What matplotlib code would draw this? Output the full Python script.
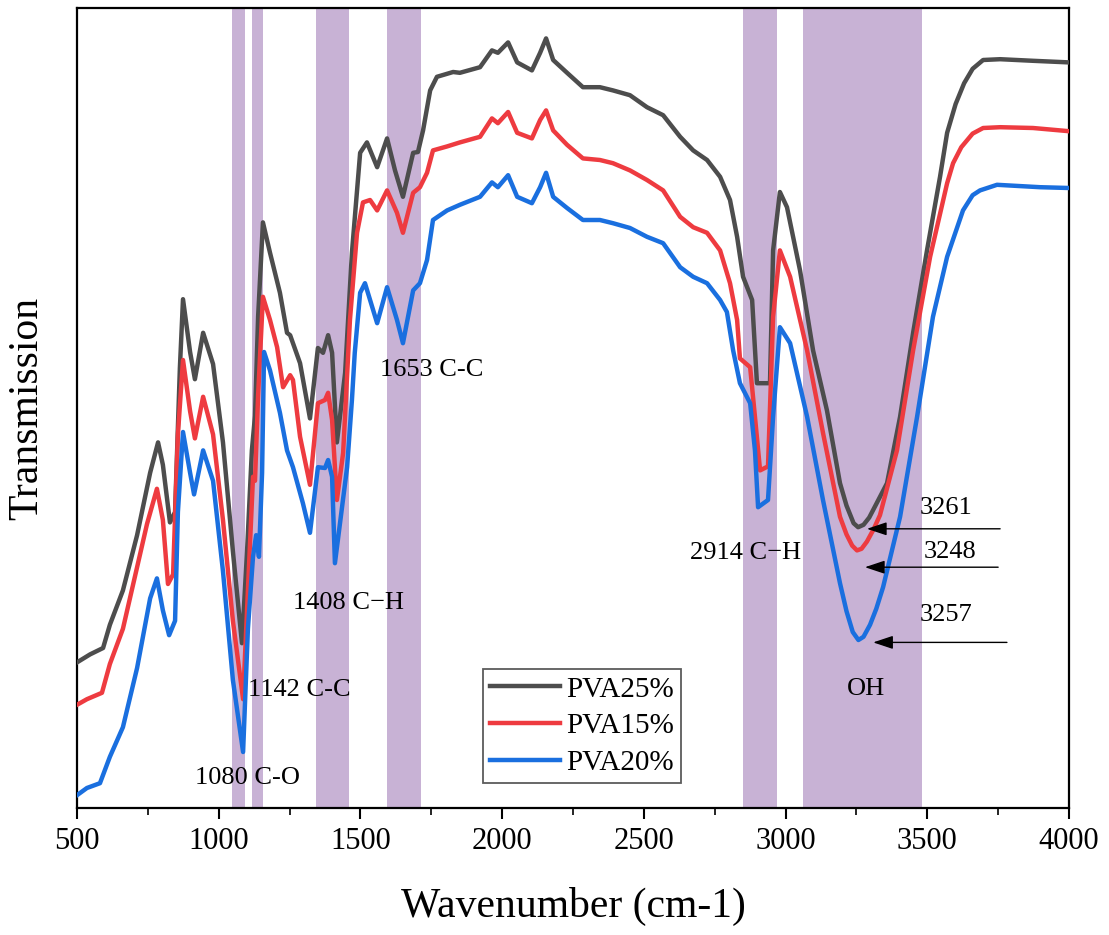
import matplotlib
matplotlib.use("Agg")
import matplotlib.pyplot as plt
from matplotlib.ticker import MultipleLocator

plt.rcParams['font.family'] = ['Liberation Serif', 'DejaVu Serif']

# wavenumber (cm-1) and transmission (a.u.)
wn_25 = [500, 546, 592, 616, 662, 712, 758, 786, 803, 828, 846, 863, 874, 899, 916, 945,
         980, 1015, 1050, 1082, 1100, 1117, 1128, 1139, 1156, 1181, 1216, 1241, 1252, 1287,
         1322, 1350, 1368, 1386, 1400, 1417, 1446, 1470, 1499, 1523, 1559, 1594, 1622, 1650,
         1686, 1703, 1721, 1746, 1770, 1827, 1851, 1922, 1964, 1985, 2021, 2053, 2105, 2134,
         2155, 2180, 2229, 2285, 2345, 2391, 2451, 2511, 2568, 2628, 2674, 2723, 2769, 2804,
         2829, 2850, 2882, 2899, 2921, 2945, 2956, 2980, 3005, 3051, 3097, 3146, 3192, 3215,
         3240, 3256, 3275, 3295, 3320, 3358, 3404, 3450, 3499, 3545, 3570, 3600, 3630, 3660,
         3697, 3757, 3873, 4000]
t_25 = [18.2, 19.2, 20.0, 22.9, 27.2, 34.1, 41.9, 45.7, 42.9, 35.7, 37.0, 55.0, 63.6, 57.0, 53.6, 59.4,
        55.5, 45.7, 32.1, 20.6, 32.1, 44.7, 49.0, 61.4, 73.2, 69.4, 64.4, 59.4, 59.1, 55.6,
        48.7, 57.5, 56.9, 59.1, 56.9, 45.7, 54.4, 69.4, 81.9, 83.2, 80.1, 83.7, 79.7, 76.4,
        81.9, 82.0, 84.7, 89.7, 91.4, 92.0, 91.9, 92.6, 94.7, 94.4, 95.7, 93.2, 92.2, 94.4,
        96.2, 93.5, 91.9, 90.1, 90.1, 89.7, 89.1, 87.6, 86.6, 83.9, 82.2, 81.0, 78.9, 76.0,
        71.4, 66.4, 63.5, 53.1, 53.1, 53.1, 69.7, 77.0, 75.1, 67.2, 57.2, 49.7, 40.6, 37.8,
        35.6, 35.1, 35.4, 36.3, 38.0, 40.6, 48.9, 59.4, 69.7, 78.9, 84.4, 88.0, 90.6, 92.4,
        93.5, 93.6, 93.4, 93.2]

wn_15 = [500, 535, 588, 616, 662, 712, 747, 782, 803, 821, 839, 856, 874, 899, 916, 945,
         980, 1015, 1050, 1086, 1103, 1121, 1128, 1139, 1156, 1181, 1206, 1227, 1252, 1262,
         1287, 1322, 1350, 1375, 1386, 1400, 1417, 1439, 1463, 1488, 1509, 1534, 1559, 1594,
         1629, 1650, 1686, 1710, 1735, 1756, 1806, 1851, 1922, 1964, 1985, 2021, 2053, 2105,
         2134, 2155, 2180, 2229, 2285, 2345, 2391, 2451, 2511, 2568, 2628, 2674, 2723, 2769,
         2804, 2829, 2839, 2875, 2892, 2910, 2938, 2956, 2980, 3016, 3076, 3132, 3192, 3215,
         3235, 3252, 3268, 3287, 3310, 3333, 3393, 3450, 3510, 3570, 3591, 3620, 3660, 3697,
         3757, 3873, 4000]
t_15 = [12.9, 13.6, 14.4, 18.0, 22.4, 30.1, 35.5, 39.9, 36.0, 28.0, 29.2, 46.7, 56.0, 49.6, 46.2, 51.4,
        46.7, 36.0, 23.4, 13.6, 27.2, 41.4, 40.9, 51.6, 63.9, 61.0, 57.6, 52.6, 54.1, 53.5,
        46.4, 40.4, 50.6, 51.0, 51.9, 48.5, 38.5, 44.4, 61.0, 71.9, 75.7, 76.0, 74.7, 77.2,
        74.4, 71.9, 76.9, 77.6, 79.4, 82.2, 82.7, 83.2, 83.9, 86.2, 85.6, 87.0, 84.4, 83.7,
        86.0, 87.2, 84.7, 82.9, 81.2, 81.0, 80.6, 79.7, 78.5, 77.2, 73.9, 72.6, 71.9, 69.7,
        65.6, 61.0, 56.2, 55.1, 48.9, 42.2, 42.7, 61.4, 69.7, 66.4, 57.2, 46.9, 36.4, 34.2,
        32.8, 32.2, 32.4, 33.3, 34.8, 36.6, 44.7, 57.2, 68.9, 78.1, 80.6, 82.6, 84.3, 85.0,
        85.1, 85.0, 84.6]

wn_20 = [500, 535, 581, 616, 662, 712, 758, 782, 803, 825, 846, 856, 874, 899, 913, 945,
         980, 1015, 1050, 1086, 1103, 1121, 1132, 1142, 1153, 1160, 1181, 1216, 1241, 1262,
         1297, 1322, 1350, 1375, 1386, 1400, 1410, 1453, 1470, 1480, 1499, 1516, 1559, 1594,
         1629, 1650, 1686, 1710, 1735, 1756, 1806, 1851, 1922, 1964, 1985, 2021, 2053, 2105,
         2134, 2155, 2180, 2229, 2285, 2345, 2391, 2451, 2511, 2568, 2628, 2674, 2723, 2769,
         2793, 2815, 2839, 2875, 2892, 2903, 2938, 2956, 2980, 3016, 3076, 3132, 3192, 3215,
         3237, 3257, 3275, 3298, 3320, 3344, 3404, 3464, 3520, 3570, 3626, 3660, 3686, 3746,
         3898, 4000]
t_20 = [1.6, 2.5, 3.1, 6.4, 10.1, 17.5, 26.2, 28.7, 24.7, 21.6, 23.4, 37.0, 47.0, 41.9, 39.2, 44.7,
        40.9, 29.6, 16.0, 7.0, 22.4, 31.4, 34.1, 31.4, 41.9, 57.0, 54.7, 49.4, 44.7, 42.6,
        38.1, 34.4, 42.6, 42.5, 43.5, 41.4, 30.6, 42.6, 51.0, 56.9, 64.4, 65.6, 60.6, 65.1,
        61.0, 58.1, 64.7, 65.6, 68.5, 73.5, 74.7, 75.4, 76.4, 78.2, 77.6, 79.1, 76.4, 75.6,
        77.6, 79.4, 76.4, 75.0, 73.5, 73.5, 73.1, 72.5, 71.4, 70.6, 67.6, 66.4, 65.6, 63.5,
        62.0, 57.2, 53.1, 50.6, 44.7, 37.6, 38.5, 48.9, 60.1, 58.1, 48.9, 38.5, 28.1, 24.6,
        22.0, 21.0, 21.4, 22.9, 24.9, 27.6, 36.4, 48.9, 61.4, 68.9, 74.7, 76.6, 77.2, 77.9,
        77.6, 77.5]

# highlighted bands (cm-1)
bands = [(1047, 1093), (1117, 1156), (1343, 1460), (1594, 1714), (2850, 2970), (3061, 3481)]

# peak labels: text, wavenumber, transmission
peak_labels = ["1653 C-C", "1408 C\u2212H", "1142 C-C", "1080 C-O", "2914 C\u2212H",
               "3261", "3248", "3257", "OH"]
label_wn = [1569, 1262, 1103, 916, 2663, 3474, 3489, 3474, 3284]
label_t = [54.7, 25.6, 14.7, 3.7, 31.9, 37.5, 32.0, 24.1, 14.9]

# OH arrows: tail wavenumber, head wavenumber, transmission
arrow_from = [3757, 3750, 3781]
arrow_to = [3287, 3280, 3309]
arrow_t = [34.9, 30.1, 20.7]

fig = plt.figure(figsize=(11.09, 9.35), dpi=100)
ax = fig.add_axes([77 / 1109, 127 / 935, 992 / 1109, 800 / 935])

for lo, hi in bands:
    ax.axvspan(lo, hi, color='#C8B2D5', lw=0, zorder=0)

ax.plot(wn_25, t_25, color='#4D4D4D', lw=3.2, label='PVA25%', zorder=3)
ax.plot(wn_15, t_15, color='#EE3B40', lw=3.2, label='PVA15%', zorder=3)
ax.plot(wn_20, t_20, color='#1A6FDF', lw=3.2, label='PVA20%', zorder=3)

for s, x, y in zip(peak_labels, label_wn, label_t):
    ha = 'center' if s == 'OH' else 'left'
    ax.text(x, y, s, fontsize=19, ha=ha, va='center', zorder=4)

for x0, x1, y in zip(arrow_from, arrow_to, arrow_t):
    ax.annotate('', xy=(x1, y), xytext=(x0, y),
                arrowprops=dict(arrowstyle='-|>,head_length=0.45,head_width=0.15',
                                color='black', lw=1, mutation_scale=27,
                                shrinkA=0, shrinkB=0), zorder=5)

ax.set_xlim(500, 4000)
ax.set_ylim(0, 100)
ax.xaxis.set_major_locator(MultipleLocator(500))
ax.xaxis.set_minor_locator(MultipleLocator(250))
ax.tick_params(axis='x', which='major', direction='out', length=8, width=1.5,
               labelsize=22, pad=6)
ax.tick_params(axis='x', which='minor', direction='out', length=5, width=1.2)
ax.set_yticks([])
for sp in ax.spines.values():
    sp.set_linewidth(1.6)

ax.set_xlabel('Wavenumber (cm-1)', fontsize=30, labelpad=22)
ax.set_ylabel('Transmission', fontsize=30, labelpad=22)

leg = ax.legend(loc='lower left', bbox_to_anchor=(0.409, 0.031), fontsize=21,
                frameon=True, fancybox=False, edgecolor='#333333',
                handlelength=2.4, handletextpad=0.2, borderpad=0.25,
                labelspacing=0.35, borderaxespad=0)
leg.get_frame().set_linewidth(1.3)

plt.savefig('out.png', dpi=100)
